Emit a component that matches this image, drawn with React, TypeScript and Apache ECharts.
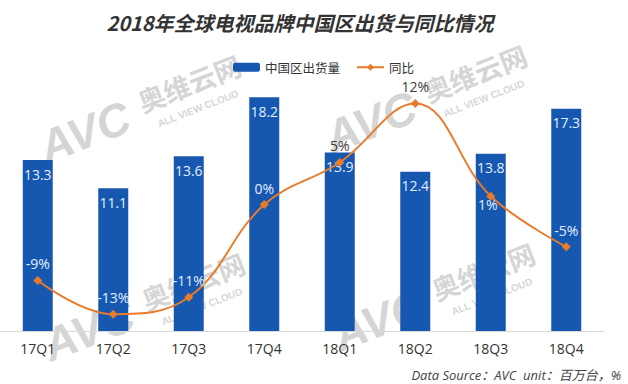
import React, { useEffect, useRef } from 'react';
import * as echarts from 'echarts';

const categories = ['17Q1', '17Q2', '17Q3', '17Q4', '18Q1', '18Q2', '18Q3', '18Q4'];
const shipments = [13.3, 11.1, 13.6, 18.2, 13.9, 12.4, 13.8, 17.3];
const yoyGrowth = [-9, -13, -11, 0, 5, 12, 1, -5];
const yoyLabelBelow = [false, false, false, false, false, false, true, false];
const yoyLabelDark = [false, false, false, false, true, true, false, false];

const seriesNames = ['中国区出货量', '同比'];
const titleText = '2018年全球电视品牌中国区出货与同比情况';
const sourceText = 'Data Source：AVC  unit：百万台，%';

const BLUE = '#1658B0';
const ORANGE = '#E97B2C';
const WM = '#b9b9b9';

function watermark(x: number, y: number) {
  return {
    type: 'group',
    x,
    y,
    rotation: 0.37,
    z: 100,
    silent: true,
    children: [
      {
        type: 'text',
        x: 0,
        y: 0,
        style: {
          text: 'AVC',
          fontSize: 46,
          fontWeight: 'bold',
          fontStyle: 'italic',
          fontFamily: '"Liberation Sans", Arial, sans-serif',
          fill: WM,
          opacity: 0.6,
          verticalAlign: 'middle',
        },
      },
      {
        type: 'text',
        x: 108,
        y: -8,
        style: {
          text: '奥维云网',
          fontSize: 27,
          fontWeight: 'bold',
          fontFamily: '"Noto Sans CJK SC", sans-serif',
          fill: WM,
          opacity: 0.6,
          verticalAlign: 'middle',
        },
      },
      {
        type: 'text',
        x: 118,
        y: 19,
        style: {
          text: 'ALL VIEW CLOUD',
          fontSize: 10,
          fontWeight: 'bold',
          fontFamily: '"Liberation Sans", Arial, sans-serif',
          fill: WM,
          opacity: 0.6,
          verticalAlign: 'middle',
        },
      },
    ],
  };
}

export default function App() {
  const ref = useRef<HTMLDivElement>(null);

  useEffect(() => {
    if (!ref.current) return;
    const chart = echarts.init(ref.current, null, { renderer: 'svg' });

    const lineData = yoyGrowth.map((v, i) => ({
      value: v,
      label: {
        position: yoyLabelBelow[i] ? 'bottom' : 'top',
        distance: yoyLabelBelow[i] ? -3 : 5,
        offset: yoyLabelBelow[i] ? [-3, 0] : [0, 0],
        color: yoyLabelDark[i] ? '#3a3a3a' : '#e3edff',
      },
    }));

    chart.setOption({
      animation: false,
      backgroundColor: '#ffffff',
      textStyle: { fontFamily: '"Open Sans", "Noto Sans", sans-serif' },
      legend: {
        left: 228,
        top: 56,
        itemWidth: 27,
        itemHeight: 9,
        itemGap: 16,
        textStyle: {
          fontSize: 12.5,
          color: '#333333',
          fontFamily: '"Noto Sans CJK SC", sans-serif',
        },
        data: seriesNames,
      },
      grid: { left: 0, right: 24, top: 74, bottom: 53, containLabel: false },
      xAxis: {
        type: 'category',
        data: categories,
        axisLine: { show: true, lineStyle: { color: '#dadada', width: 1 } },
        axisTick: { show: false },
        axisLabel: {
          fontSize: 14,
          color: '#333333',
          margin: 10,
          fontFamily: '"Open Sans", sans-serif',
        },
      },
      yAxis: [
        { type: 'value', min: 0, max: 20, show: false, splitLine: { show: false } },
        { type: 'value', min: -15, max: 15.5, show: false, splitLine: { show: false } },
      ],
      series: [
        {
          name: seriesNames[0],
          type: 'bar',
          data: shipments,
          barWidth: 30,
          itemStyle: { color: BLUE },
          label: {
            show: true,
            position: 'insideTop',
            distance: 7,
            color: '#e3edff',
            fontSize: 14,
            fontFamily: '"Open Sans", sans-serif',
          },
        },
        {
          name: seriesNames[1],
          type: 'line',
          yAxisIndex: 1,
          data: lineData,
          smooth: 0.4,
          symbol: 'diamond',
          symbolSize: 9,
          lineStyle: { color: ORANGE, width: 2 },
          itemStyle: { color: ORANGE },
          label: {
            show: true,
            fontSize: 14,
            fontFamily: '"Open Sans", sans-serif',
            formatter: (p: any) => `${p.value}%`,
          },
          z: 3,
        },
      ],
      graphic: [
        {
          type: 'text',
          x: 300,
          y: 22,
          z: 110,
          style: {
            text: titleText,
            fontSize: 20,
            fontWeight: 'bold',
            fontStyle: 'italic',
            fontFamily: '"Noto Sans CJK SC", sans-serif',
            fill: '#333333',
            textAlign: 'center',
            verticalAlign: 'middle',
          },
        },
        {
          type: 'text',
          x: 621,
          y: 375,
          z: 110,
          style: {
            text: sourceText,
            fontSize: 13,
            fontStyle: 'italic',
            fontFamily: '"Open Sans", "Noto Sans CJK SC", sans-serif',
            fill: '#444444',
            textAlign: 'right',
            verticalAlign: 'middle',
          },
        },
        watermark(41, 149),
        watermark(327, 139),
        watermark(45, 347),
        watermark(335, 337),
      ],
    });

    return () => chart.dispose();
  }, []);

  return (
    <div
      ref={ref}
      style={{ position: 'fixed', left: 0, top: 0, width: 628, height: 384 }}
    />
  );
}
